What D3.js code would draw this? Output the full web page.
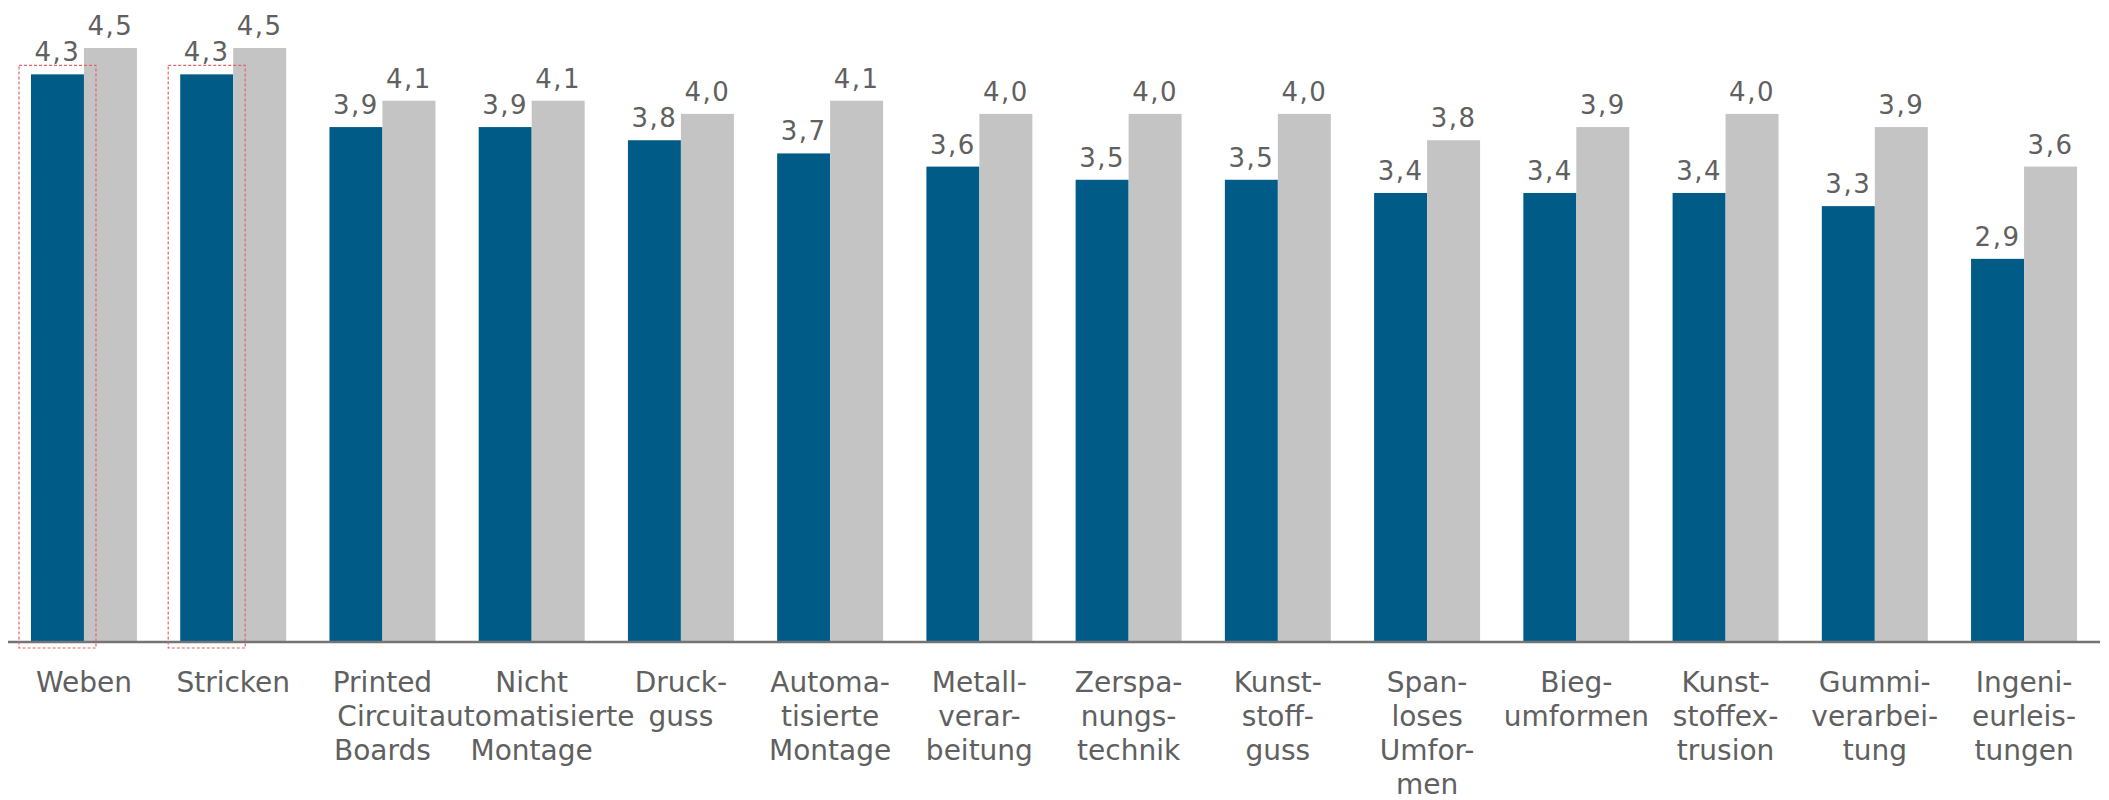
<!DOCTYPE html>
<html>
<head>
<meta charset="utf-8">
<script src="https://cdn.jsdelivr.net/npm/d3@7"></script>
<style>
  html, body { margin: 0; padding: 0; background: #ffffff; }
  svg { display: block; }
</style>
</head>
<body>
<svg id="chart" width="2109" height="800"></svg>
<script>
// ---- data ----
const categories = [
  "Weben", "Stricken", "Printed Circuit Boards", "Nicht automatisierte Montage",
  "Druckguss", "Automatisierte Montage", "Metallverarbeitung", "Zerspanungstechnik",
  "Kunststoffguss", "Spanloses Umformen", "Biegumformen", "Kunststoffextrusion",
  "Gummiverarbeitung", "Ingenieurleistungen"
];
const categoryLines = [
  ["Weben"],
  ["Stricken"],
  ["Printed", "Circuit", "Boards"],
  ["Nicht", "automatisierte", "Montage"],
  ["Druck-", "guss"],
  ["Automa-", "tisierte", "Montage"],
  ["Metall-", "verar-", "beitung"],
  ["Zerspa-", "nungs-", "technik"],
  ["Kunst-", "stoff-", "guss"],
  ["Span-", "loses", "Umfor-", "men"],
  ["Bieg-", "umformen"],
  ["Kunst-", "stoffex-", "trusion"],
  ["Gummi-", "verarbei-", "tung"],
  ["Ingeni-", "eurleis-", "tungen"]
];
const seriesA = [4.3, 4.3, 3.9, 3.9, 3.8, 3.7, 3.6, 3.5, 3.5, 3.4, 3.4, 3.4, 3.3, 2.9];
const seriesB = [4.5, 4.5, 4.1, 4.1, 4.0, 4.1, 4.0, 4.0, 4.0, 3.8, 3.9, 4.0, 3.9, 3.6];
const highlighted = ["Weben", "Stricken"];
const seriesKeys = ["A", "B"];

// ---- styles ----
const colors = { A: "#005c87", B: "#c4c4c4" };
const textColor = "#606060";
const fontFamily = "'DejaVu Sans', Verdana, sans-serif";

const svg = d3.select("#chart");

const x0 = d3.scaleBand().domain(categories).range([8, 2100])
  .paddingInner(0.29).paddingOuter(0.154);
const x1 = d3.scaleBand().domain(seriesKeys).range([0, x0.bandwidth()]);
const y = d3.scaleLinear().domain([0, 4.5]).range([641, 48]);

const rows = categories.map((c, i) => ({ cat: c, lines: categoryLines[i], A: seriesA[i], B: seriesB[i] }));
const fmt = d3.formatLocale({ decimal: ",", thousands: ".", grouping: [3], currency: ["", "€"] }).format(".1f");

const groups = svg.append("g").selectAll("g").data(rows).join("g")
  .attr("transform", d => `translate(${x0(d.cat)},0)`);

groups.selectAll("rect").data(d => seriesKeys.map(k => ({ key: k, value: d[k] }))).join("rect")
  .attr("x", d => x1(d.key))
  .attr("width", x1.bandwidth())
  .attr("y", d => y(d.value))
  .attr("height", d => y(0) - y(d.value))
  .attr("fill", d => colors[d.key]);

groups.selectAll("text.val").data(d => seriesKeys.map(k => ({ key: k, value: d[k] }))).join("text")
  .attr("class", "val")
  .attr("x", d => x1(d.key) + x1.bandwidth() / 2)
  .attr("y", d => y(d.value) - 13)
  .attr("text-anchor", "middle")
  .attr("font-family", fontFamily)
  .attr("font-size", 26)
  .attr("letter-spacing", "1.5px")
  .attr("fill", textColor)
  .text(d => fmt(d.value));

// axis baseline
svg.append("line")
  .attr("x1", 8).attr("x2", 2100)
  .attr("y1", y(0) + 1).attr("y2", y(0) + 1)
  .attr("stroke", "#747474").attr("stroke-width", 2.5);

// category labels
const labels = svg.append("g").selectAll("text").data(rows).join("text")
  .attr("x", d => x0(d.cat) + x0.bandwidth() / 2)
  .attr("y", 692)
  .attr("text-anchor", "middle")
  .attr("font-family", fontFamily)
  .attr("font-size", 28)
  .attr("fill", textColor);
labels.selectAll("tspan").data(d => d.lines.map((l, i) => ({ l, i, x: x0(d.cat) + x0.bandwidth() / 2 }))).join("tspan")
  .attr("x", d => d.x)
  .attr("dy", d => d.i === 0 ? 0 : 34)
  .text(d => d.l);

// red dotted highlight boxes
svg.append("g").selectAll("rect").data(rows.filter(d => highlighted.includes(d.cat))).join("rect")
  .attr("x", d => x0(d.cat) + x1("A") - 12)
  .attr("y", d => y(d.A) - 9)
  .attr("width", x1.bandwidth() + 24)
  .attr("height", d => y(0) - y(d.A) + 16)
  .attr("fill", "none")
  .attr("stroke", "#e06666")
  .attr("stroke-width", 1.2)
  .attr("stroke-dasharray", "3,2");
</script>
</body>
</html>
